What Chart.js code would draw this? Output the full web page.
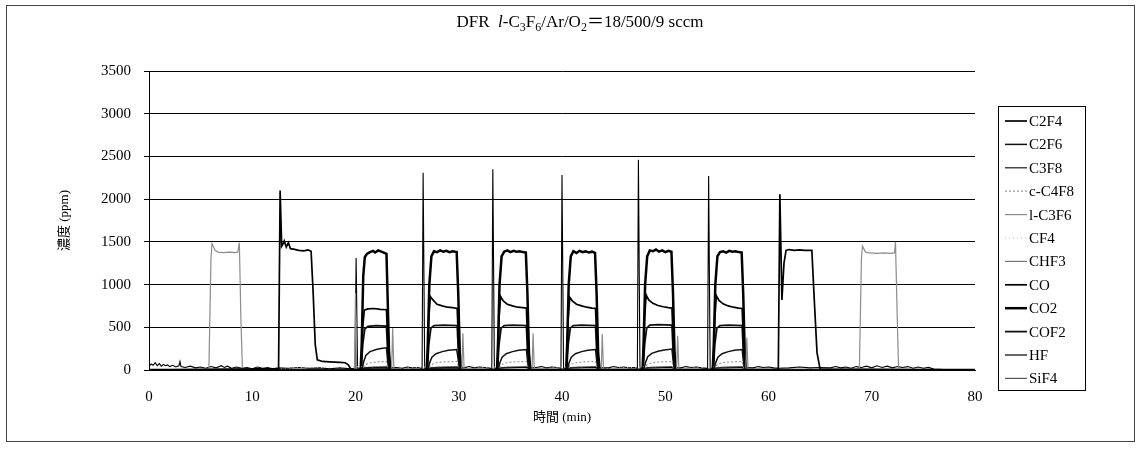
<!DOCTYPE html>
<html>
<head>
<meta charset="utf-8">
<script src="https://cdn.jsdelivr.net/npm/chart.js@4"></script>
<style>
html, body { margin: 0; padding: 0; background: #fff; }
#wrap { width: 1136px; height: 450px; position: relative; }
</style>
</head>
<body>
<div id="wrap"><canvas id="myChart"></canvas></div>
<script>
const seriesNames = ['C2F4', 'C2F6', 'C3F8', 'c-C4F8', 'l-C3F6', 'CF4', 'CHF3', 'CO', 'CO2', 'COF2', 'HF', 'SiF4'];
const xTicks = [0, 10, 20, 30, 40, 50, 60, 70, 80];
const yTicks = [0, 500, 1000, 1500, 2000, 2500, 3000, 3500];

// each point: [time (min), concentration (ppm)]
const C2F4 = [[0,0],[12.55,15],[12.7,2100],[12.85,1450],[13.0,1480],[13.1,1510],[13.3,1440],[13.5,1490],[13.7,1420],[14.0,1415],[14.5,1400],[15.0,1395],[15.4,1405],[15.7,1390],[15.9,900],[16.1,300],[16.3,120],[16.8,100],[17.5,95],[18.5,90],[19.0,85],[19.3,60],[19.5,20],[19.7,5],
  [60.95,5],[61.1,2057],[61.3,820],[61.5,1250],[61.7,1400],[62.0,1410],[62.5,1400],[63.0,1405],[63.5,1400],[64.2,1400],[64.4,900],[64.7,200],[65.0,10],[80,0]];
const C2F6 = [[0,0],[20.6,0],[20.8,100],[21.0,170],[21.4,215],[22.0,240],[22.6,255],[23.0,260],[23.1,120],[23.25,0],
  [27.0,0],[27.2,90],[27.4,150],[27.8,190],[28.4,215],[29.0,230],[29.8,240],[29.95,120],[30.1,0],
  [33.8,0],[34.0,90],[34.2,150],[34.6,190],[35.2,215],[35.8,230],[36.55,240],[36.65,120],[36.8,0],
  [40.5,0],[40.7,90],[40.9,150],[41.3,190],[41.9,215],[42.5,230],[43.25,240],[43.35,120],[43.5,0],
  [47.9,0],[48.1,90],[48.3,155],[48.7,195],[49.3,220],[49.9,235],[50.65,245],[50.75,120],[50.9,0],
  [54.7,0],[54.9,90],[55.1,150],[55.5,190],[56.1,215],[56.7,230],[57.45,240],[57.55,120],[57.7,0],[80,0]];
const C3F8 = [[0,5],[20.6,5],[21.0,20],[23.0,25],[23.2,5],[27.0,5],[27.4,20],[29.9,25],[30.1,5],[80,5]];
const cC4F8 = [[0,0],[20.6,0],[20.9,60],[21.4,85],[22.2,95],[23.0,100],[23.1,40],[23.2,0],
  [27.0,0],[27.3,60],[27.8,85],[28.6,95],[29.85,100],[29.95,40],[30.05,0],
  [33.8,0],[34.1,60],[34.6,85],[35.4,95],[36.55,100],[36.65,40],[36.75,0],
  [40.5,0],[40.8,60],[41.3,85],[42.1,95],[43.25,100],[43.35,40],[43.45,0],
  [47.9,0],[48.2,60],[48.7,85],[49.5,95],[50.65,100],[50.75,40],[50.85,0],
  [54.7,0],[55.0,60],[55.5,85],[56.3,95],[57.45,100],[57.55,40],[57.65,0],[80,0]];
const lC3F6 = [[0,0],[5.8,0],[6.0,1300],[6.1,1480],[6.4,1400],[6.7,1380],[7.2,1375],[7.8,1380],[8.4,1375],[8.6,1380],[8.75,1490],[8.9,600],[9.05,0],
  [19.9,0],[20.0,900],[20.1,0],[23.5,0],[23.6,490],[23.72,0],[30.3,0],[30.4,430],[30.52,0],[37.1,0],[37.2,430],[37.32,0],
  [43.8,0],[43.9,420],[44.02,0],[51.1,0],[51.2,400],[51.32,0],[57.8,0],[57.9,380],[58.02,0],
  [68.8,0],[69.0,1300],[69.1,1450],[69.4,1380],[69.8,1370],[70.5,1365],[71.2,1370],[71.8,1365],[72.2,1370],[72.3,1500],[72.45,700],[72.6,0],[80,0]];
const CF4 = [[0,0],[21.5,40],[22.0,0],[28.2,45],[28.6,0],[35.0,45],[35.4,0],[41.8,45],[42.2,0],[49.0,45],[49.4,0],[55.8,45],[56.2,0],[80,0]];
const CHF3 = [[0,0],[80,0]];
const CO = [[0,0],[20.55,0],[20.7,500],[20.85,700],[21.2,715],[21.8,720],[22.4,710],[23.0,705],[23.1,400],[23.25,0],
  [26.95,0],[27.1,600],[27.25,860],[27.5,820],[27.9,770],[28.4,750],[28.9,735],[29.4,730],[29.85,720],[29.95,400],[30.1,0],
  [33.75,0],[33.9,600],[34.05,860],[34.3,810],[34.7,770],[35.2,750],[35.7,735],[36.2,730],[36.55,725],[36.65,400],[36.8,0],
  [40.45,0],[40.6,600],[40.75,850],[41.0,810],[41.4,770],[41.9,750],[42.4,735],[42.9,725],[43.25,720],[43.35,400],[43.5,0],
  [47.85,0],[48.0,600],[48.15,880],[48.4,820],[48.8,780],[49.3,755],[49.8,740],[50.3,730],[50.65,725],[50.75,400],[50.9,0],
  [54.65,0],[54.8,600],[54.95,870],[55.2,815],[55.6,775],[56.1,750],[56.6,735],[57.1,725],[57.45,720],[57.55,400],[57.7,0],[80,0]];
const CO2 = [[0,0],[20.5,0],[20.6,300],[20.75,1100],[20.9,1320],[21.1,1360],[21.4,1380],[21.7,1395],[21.9,1375],[22.2,1400],[22.5,1385],[22.8,1370],[23.0,1360],[23.1,900],[23.25,200],[23.4,0],
  [26.9,0],[27.0,300],[27.15,1000],[27.35,1330],[27.6,1390],[27.9,1380],[28.2,1400],[28.5,1385],[28.8,1395],[29.1,1380],[29.4,1390],[29.8,1380],[29.95,900],[30.1,200],[30.25,0],
  [33.7,0],[33.8,300],[33.95,1000],[34.15,1330],[34.4,1385],[34.7,1400],[35.0,1380],[35.3,1395],[35.6,1385],[35.9,1390],[36.2,1380],[36.5,1375],[36.65,900],[36.8,200],[36.95,0],
  [40.4,0],[40.5,300],[40.65,1000],[40.85,1330],[41.1,1390],[41.4,1370],[41.7,1395],[42.0,1380],[42.3,1390],[42.6,1375],[42.9,1385],[43.2,1370],[43.35,900],[43.5,200],[43.65,0],
  [47.8,0],[47.9,300],[48.05,1000],[48.25,1330],[48.5,1400],[48.8,1390],[49.1,1410],[49.4,1385],[49.7,1400],[50.0,1380],[50.3,1395],[50.6,1385],[50.75,900],[50.9,200],[51.05,0],
  [54.6,0],[54.7,300],[54.85,1000],[55.05,1330],[55.3,1380],[55.6,1390],[55.9,1375],[56.2,1395],[56.5,1385],[56.8,1390],[57.1,1380],[57.4,1375],[57.55,900],[57.7,200],[57.85,0],[80,0]];
const COF2 = [[0,0],[20.55,0],[20.7,300],[20.9,480],[21.2,510],[22.0,520],[23.0,515],[23.1,250],[23.25,0],
  [26.95,0],[27.1,300],[27.3,490],[27.6,520],[28.5,525],[29.85,520],[29.95,250],[30.1,0],
  [33.75,0],[33.9,300],[34.1,490],[34.4,520],[35.2,525],[36.55,520],[36.65,250],[36.8,0],
  [40.45,0],[40.6,300],[40.8,490],[41.1,520],[41.9,525],[43.25,520],[43.35,250],[43.5,0],
  [47.85,0],[48.0,300],[48.2,490],[48.5,525],[49.3,530],[50.65,525],[50.75,250],[50.9,0],
  [54.65,0],[54.8,300],[55.0,490],[55.3,520],[56.1,525],[57.45,520],[57.55,250],[57.7,0],[80,0]];
const HF = [[0,40],[0.2,70],[0.4,55],[0.6,85],[0.8,50],[1.0,75],[1.2,45],[1.4,65],[1.6,50],[1.8,60],[2.0,40],[2.3,55],[2.6,35],[2.9,50],[3.0,100],[3.1,40],[3.5,30],[4.0,45],[4.5,25],[5.0,35],[5.5,20],[6.0,40],[6.5,25],[7.0,50],[7.3,30],[7.6,45],[8.0,20],[8.5,35],[9.0,20],[9.5,30],[10,15],[10.5,35],[11,20],[11.5,30],[12,15],[12.5,25],
  [13.5,20],[14.5,30],[15.5,20],[16.5,25],[17.5,15],[18.5,25],[19.5,15],[19.95,20],[20.06,1310],[20.2,20],[21,25],[22,30],[23,25],[24,30],[24.5,20],[25,35],[25.5,25],[26,30],[26.45,20],[26.55,2310],[26.7,20],
  [28,25],[29,30],[30.5,25],[31,40],[31.5,25],[32,35],[32.5,30],[33.2,20],[33.3,2350],[33.45,20],[34.5,25],[36,30],[37.5,30],[38,40],[38.5,25],[39,35],[39.5,30],[39.9,20],[40.0,2283],[40.15,20],
  [41.5,25],[43,30],[44.5,25],[45,40],[45.5,30],[46,35],[46.5,25],[47.0,30],[47.3,20],[47.4,2460],[47.55,20],[49,25],[50.5,30],[51.5,25],[52,40],[52.5,30],[53,35],[53.5,25],[54.1,20],[54.2,2272],[54.35,20],
  [56,25],[58,30],[58.5,25],[59,40],[59.5,30],[60,35],[60.5,25],[61,20],[62,25],[63,35],[64,25],[65,30],[66,25],[66.5,40],[67,25],[67.5,35],[68,20],[68.5,40],[69,30],[69.5,45],[70,25],[70.5,50],[71,30],[71.5,45],[72,25],[72.5,40],[73,30],[73.5,40],[74,20],[74.5,35],[75,20],[75.5,30],[76,10],[77,5],[80,5]];
const SiF4 = [[0,0],[20.6,0],[20.9,25],[21.6,35],[23.0,40],[23.15,0],[27.0,0],[27.3,25],[28.0,35],[29.85,40],[30.0,0],
  [33.8,0],[34.1,25],[34.8,35],[36.55,40],[36.7,0],[40.5,0],[40.8,25],[41.5,35],[43.25,40],[43.4,0],
  [47.9,0],[48.2,25],[48.9,35],[50.65,40],[50.8,0],[54.7,0],[55.0,25],[55.7,35],[57.45,40],[57.6,0],[80,0]];

const seriesData = [C2F4, C2F6, C3F8, cC4F8, lC3F6, CF4, CHF3, CO, CO2, COF2, HF, SiF4];

// drawing styles, kept apart from the values
const lineStyles = [
  { color: '#000000', width: 1.7, dash: [] },
  { color: '#111111', width: 1.5, dash: [] },
  { color: '#1a1a1a', width: 1.2, dash: [] },
  { color: '#9a9a9a', width: 1.2, dash: [2, 2] },
  { color: '#8c8c8c', width: 1.2, dash: [] },
  { color: '#c0c0c0', width: 1, dash: [1, 3] },
  { color: '#777777', width: 1, dash: [] },
  { color: '#000000', width: 1.7, dash: [] },
  { color: '#000000', width: 2.5, dash: [] },
  { color: '#111111', width: 1.8, dash: [] },
  { color: '#000000', width: 1.1, dash: [] },
  { color: '#555555', width: 1.1, dash: [] }
];

const serif = "'Liberation Serif', 'Times New Roman', serif";
const titleParts = [['DFR  ', ''], ['l', 'i'], ['-C', ''], ['3', 's'], ['F', ''], ['6', 's'], ['/Ar/O', ''], ['2', 's'], ['＝', 'w'], ['18/500/9 sccm', '']];

const datasets = seriesNames.map((name, i) => ({
  label: name,
  data: seriesData[i].map(p => ({ x: p[0], y: p[1] })),
  borderColor: lineStyles[i].color,
  borderWidth: lineStyles[i].width,
  borderDash: lineStyles[i].dash,
  pointRadius: 0,
  tension: 0,
  fill: false
}));

const decorations = {
  id: 'decorations',
  afterDraw(chart) {
    const c = chart.ctx;
    c.save();
    // outer frame
    c.strokeStyle = '#444';
    c.lineWidth = 1;
    c.strokeRect(6.5, 5.5, 1128, 436);

    // title with subscripts
    const size = 17;
    const fontFor = k => k === 'i' ? `italic ${size}px ${serif}` : k === 's' ? `${Math.round(size * 0.7)}px ${serif}` : k === 'w' ? `${size}px 'Noto Sans CJK JP', sans-serif` : `${size}px ${serif}`;
    let total = 0;
    titleParts.forEach(p => { c.font = fontFor(p[1]); total += c.measureText(p[0]).width; });
    let x = 580 - total / 2;
    const y = 27;
    c.fillStyle = '#000';
    c.textBaseline = 'alphabetic';
    c.textAlign = 'left';
    titleParts.forEach(p => {
      c.font = fontFor(p[1]);
      c.fillText(p[0], x, p[1] === 's' ? y + 4 : y);
      x += c.measureText(p[0]).width;
    });

    // legend box
    const lx = 998, ly = 106, lw = 87, lh = 284;
    c.strokeStyle = '#000';
    c.lineWidth = 1;
    c.strokeRect(lx + 0.5, ly + 0.5, lw, lh);
    c.font = `15px ${serif}`;
    c.textBaseline = 'middle';
    chart.data.datasets.forEach((ds, i) => {
      const iy = 121 + i * 23.4;
      c.strokeStyle = ds.borderColor;
      c.lineWidth = Math.max(1.2, ds.borderWidth);
      c.setLineDash(ds.borderDash || []);
      c.beginPath();
      c.moveTo(lx + 7, iy);
      c.lineTo(lx + 29, iy);
      c.stroke();
      c.setLineDash([]);
      c.fillStyle = '#000';
      c.fillText(ds.label, lx + 31, iy + 1);
    });
    c.restore();
  }
};

new Chart(document.getElementById('myChart'), {
  type: 'line',
  data: { datasets: datasets },
  plugins: [decorations],
  options: {
    responsive: true,
    maintainAspectRatio: false,
    animation: false,
    layout: { padding: { top: 71, right: 161, bottom: 0, left: 0 } },
    plugins: {
      legend: { display: false },
      title: { display: false },
      tooltip: { enabled: false }
    },
    scales: {
      x: {
        type: 'linear',
        min: 0,
        max: 80,
        afterFit: s => { s.height = 80; },
        afterBuildTicks: s => { s.ticks = xTicks.map(v => ({ value: v })); },
        grid: { display: false },
        border: { display: true, color: '#000', width: 1 },
        ticks: { color: '#000', padding: 10, maxRotation: 0, callback: v => String(v), font: { family: serif, size: 15 } },
        title: {
          display: true,
          text: '時間 (min)',
          color: '#000',
          font: { family: "'Liberation Serif', 'Noto Sans CJK JP', serif", size: 13 },
          padding: { top: 0, bottom: 25 }
        }
      },
      y: {
        min: 0,
        max: 3500,
        afterFit: s => { s.width = 149; },
        afterBuildTicks: s => { s.ticks = yTicks.map(v => ({ value: v })); },
        grid: { color: '#000', lineWidth: 1, tickLength: 5, drawTicks: true },
        border: { display: true, color: '#000', width: 1 },
        ticks: { color: '#000', padding: 13, callback: v => String(v), font: { family: serif, size: 15 } },
        title: {
          display: true,
          text: '濃度 (ppm)',
          color: '#000',
          font: { family: "'Liberation Serif', 'Noto Sans CJK JP', serif", size: 13 },
          padding: { top: 57, bottom: 0 }
        }
      }
    }
  }
});
</script>
</body>
</html>
